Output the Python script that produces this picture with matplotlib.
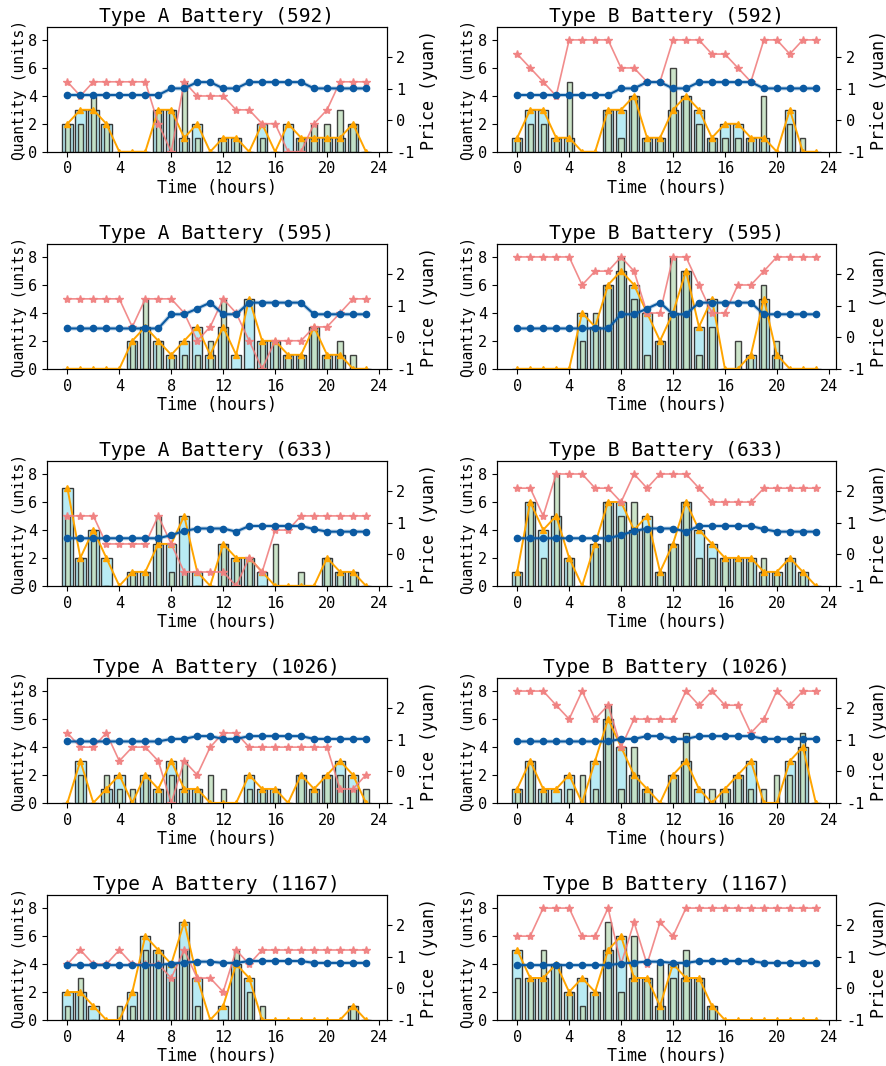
import numpy as np
import matplotlib
matplotlib.use('Agg')
import matplotlib.pyplot as plt

plt.rcParams['font.family'] = ['DejaVu Sans Mono']
plt.rcParams['axes.unicode_minus'] = False

hours = np.arange(24)
stations = ['592', '595', '633', '1026', '1167']

# wide bars (also drawn as the orange line)
a592_wide = [2,3,3,2,0,0,0,3,3,1,2,0,1,1,0,2,0,2,1,1,1,1,2,0]
b592_wide = [1,3,3,1,1,0,0,3,3,4,1,1,3,4,3,1,2,2,1,1,0,3,0,0]
a595_wide = [0,0,0,0,0,2,3,2,1,2,3,1,3,1,5,2,2,1,1,3,1,1,0,0]
b595_wide = [0,0,0,0,0,4,3,6,7,6,4,2,4,7,3,5,0,0,1,5,1,0,0,0]
a633_wide = [7,2,4,2,0,1,1,3,3,5,1,0,3,2,2,1,0,0,0,0,2,1,1,0]
b633_wide = [1,6,4,5,2,0,3,6,6,4,5,1,3,6,4,3,2,2,2,1,1,2,1,0]
a1026_wide = [0,3,0,1,2,0,2,1,3,1,1,0,0,0,2,1,1,0,2,1,2,3,2,0]
b1026_wide = [1,3,1,1,2,0,3,6,4,2,1,0,2,3,1,0,1,2,3,0,0,3,4,0]
a1167_wide = [2,2,1,0,0,2,6,5,4,7,3,0,1,4,3,0,0,0,0,0,0,0,1,0]
b1167_wide = [5,3,3,4,2,3,2,5,6,3,3,1,4,3,3,1,0,0,0,0,0,0,0,0]

# narrow bars
a592_narrow = [2,2,4,2,0,0,0,3,3,5,1,0,1,1,0,1,0,0,1,2,2,3,2,0]
b592_narrow = [1,2,2,1,5,0,0,3,1,4,1,1,6,4,2,1,1,1,1,4,0,2,1,0]
a595_narrow = [0,0,0,0,0,2,5,2,1,1,1,2,5,0,0,2,2,1,1,3,1,2,1,0]
b595_narrow = [0,0,0,0,0,2,4,6,8,5,1,2,8,7,1,3,0,2,1,6,2,0,0,0]
a633_narrow = [5,2,4,0,0,1,1,5,1,1,0,0,3,2,2,0,3,0,1,0,2,1,1,0]
b633_narrow = [1,6,2,8,2,0,3,6,5,6,4,1,3,6,2,2,2,2,2,2,1,2,1,0]
a1026_narrow = [0,2,0,2,1,1,2,1,2,3,1,2,1,0,1,1,1,0,2,1,2,2,1,1]
b1026_narrow = [1,3,1,0,1,2,1,7,1,4,1,0,2,5,0,1,1,2,1,1,2,2,5,0]
a1167_narrow = [1,3,0,0,1,1,5,5,3,5,1,0,0,5,2,1,0,0,0,0,0,0,1,0]
b1167_narrow = [3,3,5,4,2,1,2,7,2,6,3,4,3,5,3,1,0,0,0,0,0,0,0,0]

# star line (right axis)
a592_star = [1.22,0.77,1.22,1.22,1.22,1.22,1.22,-0.11,-1.0,1.22,0.77,0.77,0.77,0.33,0.33,-0.11,-0.11,-1.0,-1.0,-0.11,0.33,1.22,1.22,1.22]
b592_star = [2.10,1.66,1.22,0.77,2.55,2.55,2.55,2.55,1.66,1.66,1.22,1.22,2.55,2.55,2.55,2.10,2.10,1.66,1.22,2.55,2.55,2.10,2.55,2.55]
a595_star = [1.22,1.22,1.22,1.22,1.22,0.33,1.22,1.22,1.22,0.77,-0.11,0.33,1.22,0.77,-0.11,-1.0,-0.11,-0.11,-0.11,0.33,0.33,0.77,1.22,1.22]
b595_star = [2.55,2.55,2.55,2.55,2.55,1.66,2.10,2.10,2.55,2.10,0.77,0.77,2.55,2.55,1.66,0.77,0.77,1.66,1.66,2.10,2.55,2.55,2.55,2.55]
a633_star = [1.22,1.22,1.22,0.33,0.33,0.33,0.33,1.22,0.33,-0.56,-0.56,-0.56,-0.56,-1.0,-0.11,-0.56,0.77,0.77,1.22,1.22,1.22,1.22,1.22,1.22]
b633_star = [2.10,2.10,1.22,2.55,2.55,2.55,2.10,2.10,1.66,2.55,2.10,2.55,2.55,2.55,2.10,1.66,1.66,1.66,1.66,2.10,2.10,2.10,2.10,2.10]
a1026_star = [1.22,0.77,0.77,1.22,0.33,0.77,0.77,0.33,-1.0,0.33,-0.11,0.77,1.22,1.22,0.77,0.77,0.77,0.77,0.77,0.77,0.77,-0.56,-0.56,-0.11]
b1026_star = [2.55,2.55,2.55,2.10,1.66,2.55,1.66,2.10,0.77,1.66,1.66,1.66,1.66,2.55,2.10,2.55,2.10,2.10,1.22,1.66,2.55,2.10,2.55,2.55]
a1167_star = [0.77,1.22,0.77,0.77,1.22,0.77,0.77,0.77,0.33,1.22,0.33,0.33,-0.11,1.22,0.77,1.22,1.22,1.22,1.22,1.22,1.22,1.22,1.22,1.22]
b1167_star = [1.66,1.66,2.55,2.55,2.55,1.66,1.66,2.55,0.77,2.10,0.77,2.10,1.66,2.55,2.55,2.55,2.55,2.55,2.55,2.55,2.55,2.55,2.55,2.55]

# electricity price per station (blue line)
price_592 = [0.80]*8 + [1.01,1.01,1.21,1.21,1.01,1.01] + [1.21]*5 + [1.01]*5
price_595 = [0.28]*8 + [0.73,0.73,0.91,1.10,0.73,0.73] + [1.10]*5 + [0.73]*5
price_633 = [0.51]*8 + [0.61,0.74,0.82,0.82,0.82,0.72] + [0.90]*5 + [0.80,0.72,0.72,0.72,0.72]
price_1026 = [0.95]*8 + [1.03,1.03,1.12,1.12,1.03,1.03] + [1.12]*5 + [1.03]*5
price_1167 = [0.74]*8 + [0.79,0.82,0.85,0.85,0.81,0.81] + [0.87]*5 + [0.81]*5

wide = {'A': [a592_wide, a595_wide, a633_wide, a1026_wide, a1167_wide],
        'B': [b592_wide, b595_wide, b633_wide, b1026_wide, b1167_wide]}
narrow = {'A': [a592_narrow, a595_narrow, a633_narrow, a1026_narrow, a1167_narrow],
          'B': [b592_narrow, b595_narrow, b633_narrow, b1026_narrow, b1167_narrow]}
star = {'A': [a592_star, a595_star, a633_star, a1026_star, a1167_star],
        'B': [b592_star, b595_star, b633_star, b1026_star, b1167_star]}
prices = [price_592, price_595, price_633, price_1026, price_1167]

fig, axes = plt.subplots(5, 2, figsize=(8.87, 10.66), dpi=100)
fig.subplots_adjust(left=0.0527, right=0.943, top=0.9744, bottom=0.0432,
                    wspace=0.3235, hspace=0.744)

for i, st in enumerate(stations):
    for j, t in enumerate(['A', 'B']):
        ax = axes[i, j]
        w = wide[t][i]
        ax.bar(hours, w, width=0.8, color='#b2e9f3', edgecolor='#222222',
               linewidth=1, alpha=0.9, zorder=2)
        ax.bar(hours, narrow[t][i], width=0.4, color='#c3e0c0', edgecolor='#222222',
               linewidth=1, alpha=0.85, zorder=3)
        ax.plot(hours, w, '^-', color='orange', ms=4.5, lw=1.4, zorder=4)
        ax.set_ylim(0, 8.9)
        ax.set_yticks([0, 2, 4, 6, 8])
        ax.set_xticks(range(0, 25, 4))
        ax.tick_params(labelsize=11)
        ax.set_xlabel('Time (hours)', fontsize=12, labelpad=2)
        ax.set_ylabel('Quantity (units)', fontsize=10.5, labelpad=1)
        ax.set_title('Type %s Battery (%s)' % (t, st), fontsize=14, pad=4)

        ax2 = ax.twinx()
        ax2.plot(hours, star[t][i], '*-', color='lightcoral', ms=6, lw=1.2, alpha=0.9)
        ax2.plot(hours, prices[i], '-', color='#0b5aa2', lw=3, alpha=0.25)
        ax2.plot(hours, prices[i], 'o-', color='#0b5aa2', ms=4.5, lw=1.5)
        ax2.set_ylim(-1, 2.95)
        ax2.set_yticks([-1, 0, 1, 2])
        ax2.tick_params(labelsize=11)
        ax2.set_ylabel('Price (yuan)', fontsize=12, labelpad=4)

fig.savefig('out.png', dpi=100)
